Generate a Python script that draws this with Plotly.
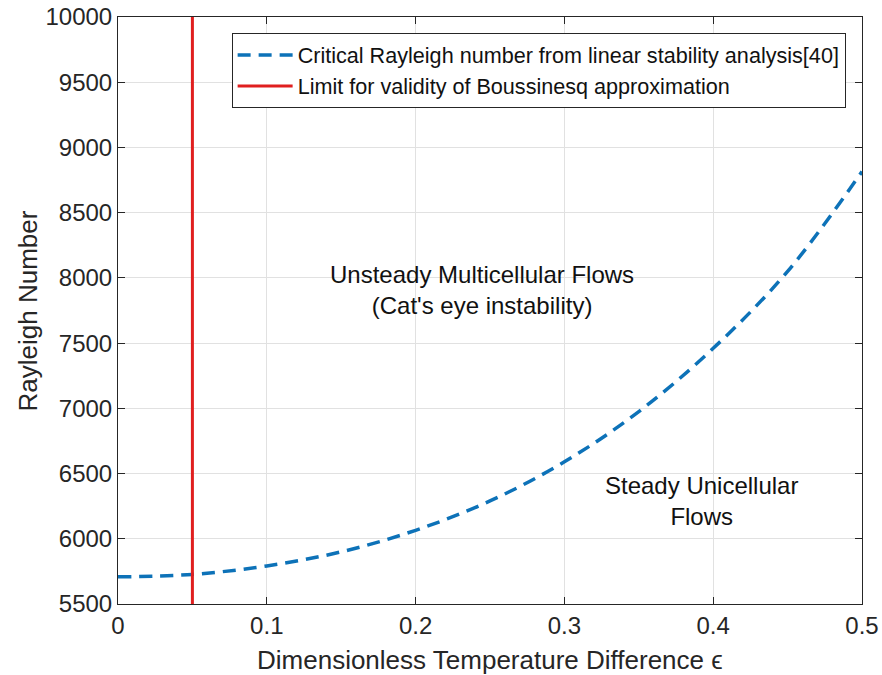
import plotly.graph_objects as go

# Data
eps = [0.0, 0.05, 0.10, 0.15, 0.20, 0.25, 0.30, 0.35, 0.40, 0.45, 0.50]
ra_crit = [5708, 5727, 5792, 5900, 6065, 6290, 6590, 6975, 7460, 8050, 8815]
boussinesq_x = [0.05, 0.05]
boussinesq_y = [5500, 10000]

x_ticks = [0, 0.1, 0.2, 0.3, 0.4, 0.5]
x_tick_labels = ["0", "0.1", "0.2", "0.3", "0.4", "0.5"]
y_ticks = [5500, 6000, 6500, 7000, 7500, 8000, 8500, 9000, 9500, 10000]
y_tick_labels = ["5500", "6000", "6500", "7000", "7500", "8000", "8500", "9000", "9500", "10000"]

FONT = "Liberation Sans, Arial, Helvetica, sans-serif"
BLUE = "#0d72b8"
RED = "#e01f1f"
TXT = "#262626"

fig = go.Figure()
fig.add_trace(go.Scatter(
    x=eps, y=ra_crit, mode="lines", line_shape="spline",
    line=dict(color=BLUE, width=3.5, dash="13px,8px"),
    name="Critical Rayleigh number from linear stability analysis[40]",
))
fig.add_trace(go.Scatter(
    x=boussinesq_x, y=boussinesq_y, mode="lines",
    line=dict(color=RED, width=3),
    name="Limit for validity of Boussinesq approximation",
))

fig.add_annotation(x=0.2446, y=7908, xref="x", yref="y", showarrow=False,
                   text="Unsteady Multicellular Flows<br>(Cat's eye instability)",
                   font=dict(family=FONT, size=24, color="#111111"), align="center")
fig.add_annotation(x=0.392, y=6290, xref="x", yref="y", showarrow=False,
                   text="Steady Unicellular<br>Flows",
                   font=dict(family=FONT, size=24, color="#111111"), align="center")

# axis titles
fig.add_annotation(x=-0.121, y=0.5, xref="paper", yref="paper", showarrow=False,
                   text="Rayleigh Number", textangle=-90,
                   xanchor="center", yanchor="middle",
                   font=dict(family=FONT, size=26, color=TXT))
fig.add_annotation(x=0.5, y=-0.0954, xref="paper", yref="paper", showarrow=False,
                   text="Dimensionless Temperature Difference ϵ",
                   xanchor="center", yanchor="middle",
                   font=dict(family=FONT, size=26, color=TXT))

axis_common = dict(
    showline=True, linecolor=TXT, linewidth=1, mirror="ticks",
    ticks="inside", ticklen=7, tickcolor=TXT, automargin=False,
    showgrid=True, gridcolor="#e1e1e1", gridwidth=1, zeroline=False,
    tickfont=dict(family=FONT, size=24, color=TXT),
)

fig.update_layout(
    template="none",
    width=882, height=675,
    margin=dict(l=118, r=20, t=17, b=71),
    paper_bgcolor="white", plot_bgcolor="white",
    font=dict(family=FONT, color=TXT),
    xaxis=dict(range=[0, 0.5], tickvals=x_ticks, ticktext=x_tick_labels, **axis_common),
    yaxis=dict(range=[5500, 10000], tickvals=y_ticks, ticktext=y_tick_labels, **axis_common),
    legend=dict(x=0.978, y=0.972, xanchor="right", yanchor="top",
                bgcolor="white", bordercolor=TXT, borderwidth=1,
                font=dict(family=FONT, size=21.6, color="#111111"),
                itemwidth=55, tracegroupgap=0),
    showlegend=True,
)

fig.write_html("out.html")
